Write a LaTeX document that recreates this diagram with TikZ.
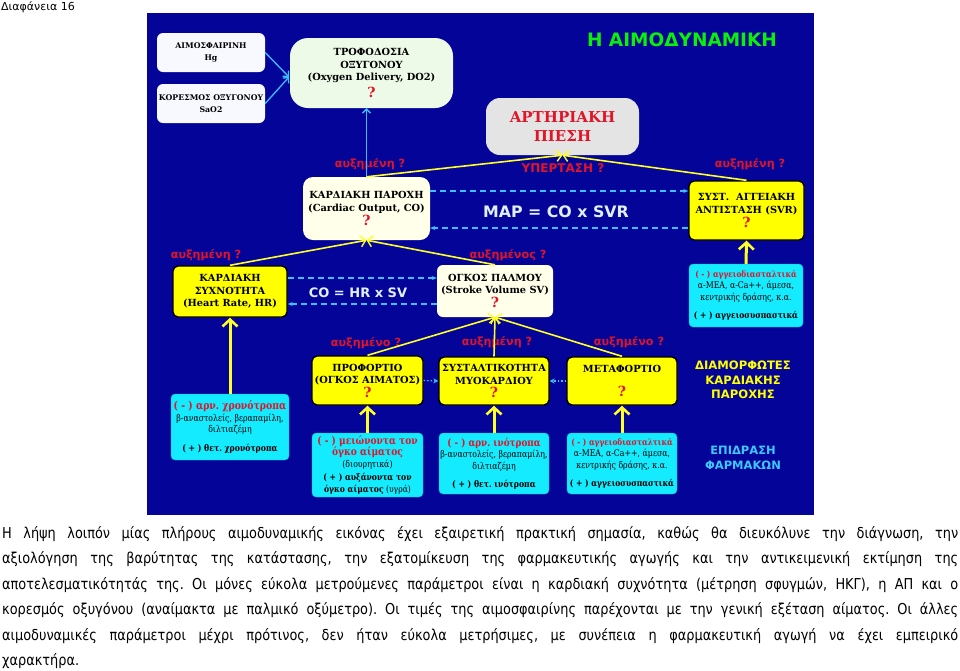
\documentclass[tikz,border=0pt]{standalone}
\usepackage{fontspec}
\setmainfont{DejaVu Serif}
\newfontfamily\sansf{DejaVu Sans}
\newfontfamily\cyf[FakeStretch=0.84]{DejaVu Serif}
\newfontfamily\parafont[FakeStretch=0.86]{DejaVu Sans}
\usetikzlibrary{arrows.meta}
\definecolor{panel}{RGB}{4,4,152}
\definecolor{ylw}{RGB}{255,255,0}
\definecolor{arrY}{RGB}{255,255,40}
\definecolor{cyanbox}{RGB}{20,235,255}
\definecolor{cream}{RGB}{255,255,234}
\definecolor{paleg}{RGB}{238,250,232}
\definecolor{greyb}{RGB}{228,228,228}
\definecolor{myred}{RGB}{225,20,40}
\definecolor{dashc}{RGB}{60,190,255}
\definecolor{ttlgreen}{RGB}{10,240,10}
\definecolor{epidc}{RGB}{60,200,255}
\definecolor{maptxt}{RGB}{225,240,255}
\newcommand\fz[2]{\fontsize{#1}{#2}\selectfont}
\newcommand\qm{{\fz{14}{14}\color{myred}?}}
\newcommand\rd[1]{{\color{myred}\bfseries #1}}
\frenchspacing
\begin{document}
\begin{tikzpicture}[x=1pt,y=-1pt,
  bx/.style={align=center, inner sep=0pt, text=black, font=\bfseries\fz{9.8}{12.5}},
  ybox/.style={bx, draw=black, line width=1.4pt, rounded corners=5pt, fill=ylw},
  wbox/.style={bx, fill=white, rounded corners=6pt},
  cbox/.style={align=center, inner sep=0pt, fill=cyanbox, rounded corners=4pt, draw=cyanbox!75!black, line width=0.4pt, text=black, font=\cyf\fz{9.3}{11.5}},
  lbl/.style={font=\sansf\bfseries\fz{11.2}{12}, text=myred, inner sep=0pt},
  yline/.style={draw=arrY, line width=1.6pt, -{Straight Barb[length=5pt,width=11pt,line width=1.4pt]}},
  yarrow/.style={draw=arrY, line width=3pt, -{Straight Barb[length=7pt,width=15pt,line width=2.6pt]}},
  dsh/.style={draw=dashc, line width=1.3pt, dash pattern=on 6pt off 4pt, -{Stealth[length=5pt,width=4pt]}},
  dotarr/.style={draw=dashc, line width=1.2pt, dash pattern=on 1.5pt off 2pt, -{Stealth[length=5pt,width=5pt]}},
  barr/.style={draw=dashc, line width=1.3pt, -{Straight Barb[length=4pt,width=8pt]}},
  para/.style={anchor=base west, inner sep=0pt, font=\parafont\fz{15}{16}, text=black}
]
\useasboundingbox (0,0) rectangle (960,670);
\fill[white] (0,0) rectangle (960,670);
\fill[panel] (147,13) rectangle (814,515);

\node[anchor=west, inner sep=0pt, font=\sansf\fz{11}{13}] (slide) at (1,7) {Διαφάνεια 16};
\node[inner sep=0pt, font=\sansf\bfseries\fz{18.5}{20}, text=ttlgreen] (title) at (682,40) {Η ΑΙΜΟΔΥΝΑΜΙΚΗ};

% top row
\node[wbox, fill={rgb,255:red,248;green,248;blue,255}, minimum width=108pt, minimum height=39pt, font=\bfseries\fz{7.8}{11.5}] (hg) at (211,52.5) {ΑΙΜΟΣΦΑΙΡΙΝΗ\\Hg};
\node[wbox, fill={rgb,255:red,248;green,248;blue,255}, minimum width=108pt, minimum height=39pt, font=\bfseries\fz{7.8}{11.5}] (sao) at (211,103.5) {ΚΟΡΕΣΜΟΣ ΟΞΥΓΟΝΟΥ\\SaO2};
\node[wbox, fill=paleg, rounded corners=18pt, minimum width=163pt, minimum height=70pt] (do2) at (371.5,73) {ΤΡΟΦΟΔΟΣΙΑ\\ΟΞΥΓΟΝΟΥ\\(Oxygen Delivery, DO2)\\[3pt]\qm};
\node[wbox, fill=greyb, rounded corners=14pt, minimum width=153pt, minimum height=57pt, text=myred, font=\bfseries\fz{15}{19}] (ap) at (562.5,126.5) {ΑΡΤΗΡΙΑΚΗ\\ΠΙΕΣΗ};
\coordinate (do2in) at (289,77);

% second row
\node[wbox, fill=cream, rounded corners=10pt, minimum width=127pt, minimum height=63pt] (co) at (366.5,208.5) {ΚΑΡΔΙΑΚΗ ΠΑΡΟΧΗ\\(Cardiac Output, CO)\\[1.5pt]\qm};
\node[ybox, minimum width=115pt, minimum height=59pt] (svr) at (746.5,210.5) {ΣΥΣΤ.\ \ ΑΓΓΕΙΑΚΗ\\ΑΝΤΙΣΤΑΣΗ (SVR)\\[1.5pt]\qm};
\node[inner sep=0pt, font=\sansf\bfseries\fz{15.8}{17}, text=maptxt] (map) at (556,212) {MAP = CO x SVR};

\node[lbl] (lco) at (370,164) {αυξημένη ?};
\node[lbl, font=\sansf\bfseries\fz{12}{13}] (lhyp) at (563,168) {ΥΠΕΡΤΑΣΗ ?};
\node[lbl] (lsvr) at (750,164) {αυξημένη ?};

% third row
\node[ybox, minimum width=114pt, minimum height=51pt] (hr) at (230,291.5) {ΚΑΡΔΙΑΚΗ\\ΣΥΧΝΟΤΗΤΑ\\(Heart Rate, HR)};
\node[wbox, fill=cream, minimum width=116pt, minimum height=52pt] (sv) at (495,291) {ΟΓΚΟΣ ΠΑΛΜΟΥ\\(Stroke Volume SV)\\[1.5pt]\qm};
\node[inner sep=0pt, font=\sansf\bfseries\fz{13}{15}, text=maptxt] (coeq) at (358,293) {CO = HR x SV};
\node[cbox, minimum width=114pt, minimum height=63pt] (svrdrug) at (746,295.5) {\rd{\fz{8.8}{11.5}( - ) αγγειοδιασταλτικά}\\α-ΜΕΑ, α-Ca++, άμεσα,\\κεντρικής δράσης, κ.α.\\[7pt]{\bfseries\fz{9}{11.5}( + ) αγγειοσυσπαστικά}};

\node[lbl] (lhr) at (206,255) {αυξημένη ?};
\node[lbl] (lsv) at (508,255) {αυξημένος ?};

% fourth row
\node[ybox, minimum width=111pt, minimum height=49pt] (pre) at (367.5,380.5) {ΠΡΟΦΟΡΤΙΟ\\(ΟΓΚΟΣ ΑΙΜΑΤΟΣ)\\[1pt]\qm};
\node[ybox, minimum width=110pt, minimum height=48pt] (con) at (494,381) {ΣΥΣΤΑΛΤΙΚΟΤΗΤΑ\\ΜΥΟΚΑΡΔΙΟΥ\\[1pt]\qm};
\node[ybox, minimum width=110pt, minimum height=48pt] (aft) at (622,381) {ΜΕΤΑΦΟΡΤΙΟ\\[12pt]\qm};
\node[lbl] (lpre) at (366,343) {αυξημένο ?};
\node[lbl] (lcon) at (497,342) {αυξημένη ?};
\node[lbl] (laft) at (629,342) {αυξημένο ?};
\node[inner sep=0pt, align=center, font=\sansf\bfseries\fz{11.6}{14.5}, text=ylw] (diam) at (743,380) {ΔΙΑΜΟΡΦΩΤΕΣ\\ΚΑΡΔΙΑΚΗΣ\\ΠΑΡΟΧΗΣ};

% drug boxes
\node[cbox, minimum width=118pt, minimum height=66pt] (hrdrug) at (230,427) {\rd{\fz{11.1}{12}( - ) αρν. χρονότροπα}\\β-αναστολείς, βεραπαμίλη,\\διλτιαζέμη\\[7pt]{\bfseries\fz{9.2}{11.5}( + ) θετ. χρονότροπα}};
\node[cbox, minimum width=111pt, minimum height=64pt] (predrug) at (367.5,465) {\rd{\fz{10.8}{12}( - ) μειώνοντα τον}\\\rd{\fz{10.8}{12}όγκο αίματος}\\(διουρητικά)\\[2pt]{\bfseries\fz{9.1}{11.5}( + ) αυξάνοντα τον}\\{\fz{9.1}{11.5}{\bfseries όγκο αίματος} (υγρά)}};
\node[cbox, minimum width=110pt, minimum height=61pt] (condrug) at (494,463.5) {\rd{\fz{10.5}{12}( - ) αρν. ινότροπα}\\β-αναστολείς, βεραπαμίλη,\\διλτιαζέμη\\[7pt]{\bfseries\fz{9.2}{11.5}( + ) θετ. ινότροπα}};
\node[cbox, minimum width=110pt, minimum height=61pt] (aftdrug) at (622,463.5) {\rd{\fz{8.8}{11.5}( - ) αγγειοδιασταλτικά}\\α-ΜΕΑ, α-Ca++, άμεσα,\\κεντρικής δράσης, κ.α.\\[7pt]{\bfseries\fz{9}{11.5}( + ) αγγειοσυσπαστικά}};
\node[inner sep=0pt, align=center, font=\sansf\bfseries\fz{11.5}{15}, text=epidc] (epid) at (743,458) {ΕΠΙΔΡΑΣΗ\\ΦΑΡΜΑΚΩΝ};

% connectors
\draw[barr] (hg.east) -- (do2in);
\draw[barr] (sao.east) -- (do2in);
\draw[barr] (co.north) -- (co.north |- do2.south);
\draw[yline] (co.north) -- (ap.south);
\draw[yline] (svr.north) -- (ap.south);
\draw[dsh] ([yshift=17.5pt]co.east) -- ([yshift=17.5pt]co.east -| svr.west);
\draw[dsh] ([yshift=-19.5pt]co.east -| svr.west) -- ([yshift=-19.5pt]co.east);
\draw[yline] (hr.north) -- (co.south);
\draw[yline] (sv.north) -- (co.south);
\draw[dsh] ([yshift=13.5pt]hr.east) -- ([yshift=13.5pt]hr.east -| sv.west);
\draw[dsh] ([yshift=-12.5pt]hr.east -| sv.west) -- ([yshift=-12.5pt]hr.east);
\draw[yline] (pre.north) -- (sv.south);
\draw[yline] (con.north) -- (sv.south);
\draw[yline] (aft.north) -- (sv.south);
\draw[dotarr] (pre.east) -- (con.west);
\draw[dotarr] (aft.west) -- (con.east);
\draw[yarrow] (svrdrug.north) -- (svr.south);
\draw[yarrow] (hrdrug.north) -- (hr.south);
\draw[yarrow] (predrug.north) -- (pre.south);
\draw[yarrow] (condrug.north) -- (con.south);
\draw[yarrow] (aftdrug.north) -- (aft.south);

% paragraph
\node[para] (p1) at (2,538) {\makebox[956pt][s]{Η λήψη λοιπόν μίας πλήρους αιμοδυναμικής εικόνας έχει εξαιρετική πρακτική σημασία, καθώς θα διευκόλυνε την διάγνωση, την}};
\node[para] (p2) at (2,563.5) {\makebox[956pt][s]{αξιολόγηση της βαρύτητας της κατάστασης, την εξατομίκευση της φαρμακευτικής αγωγής και την αντικειμενική εκτίμηση της}};
\node[para] (p3) at (2,589) {\makebox[956pt][s]{αποτελεσματικότητάς της. Οι μόνες εύκολα μετρούμενες παράμετροι είναι η καρδιακή συχνότητα (μέτρηση σφυγμών, ΗΚΓ), η ΑΠ και ο}};
\node[para] (p4) at (2,614.5) {\makebox[956pt][s]{κορεσμός οξυγόνου (αναίμακτα με παλμικό οξύμετρο). Οι τιμές της αιμοσφαιρίνης παρέχονται με την γενική εξέταση αίματος. Οι άλλες}};
\node[para] (p5) at (2,640) {\makebox[956pt][s]{αιμοδυναμικές παράμετροι μέχρι πρότινος, δεν ήταν εύκολα μετρήσιμες, με συνέπεια η φαρμακευτική αγωγή να έχει εμπειρικό}};
\node[para] (p6) at (2,665.5) {χαρακτήρα.};
\end{tikzpicture}
\end{document}
